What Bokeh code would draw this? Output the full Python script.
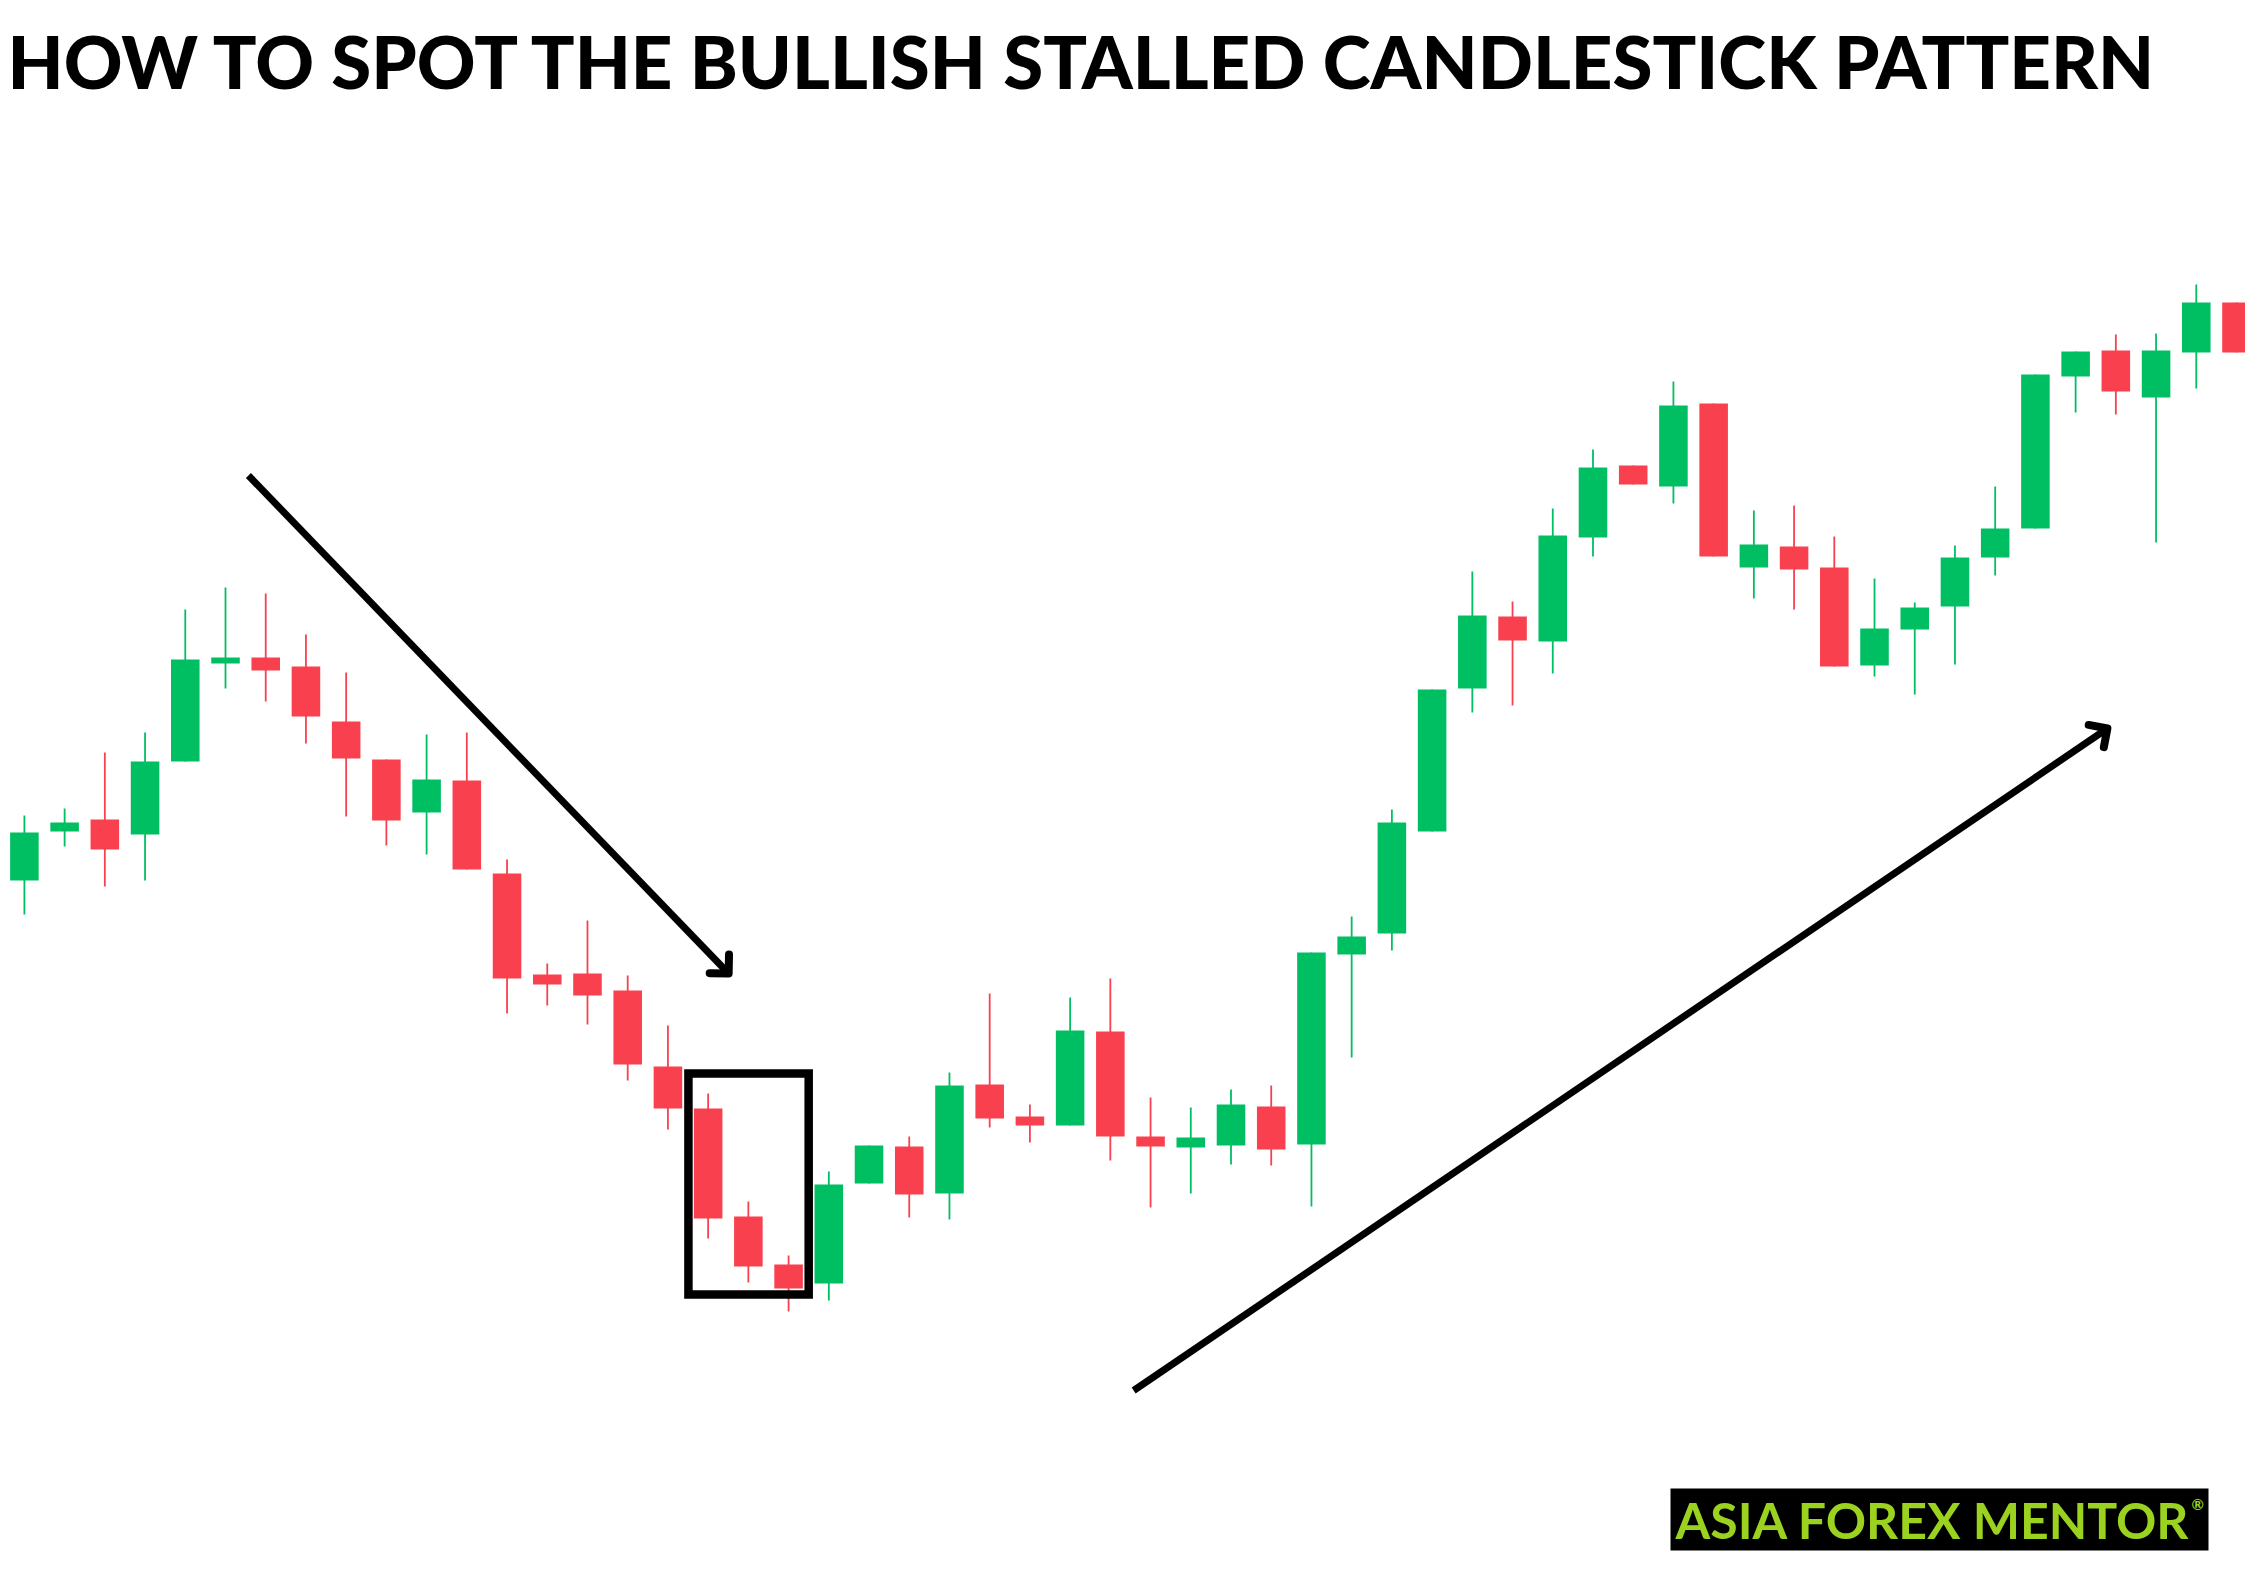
import math
from bokeh.plotting import figure
from bokeh.models import Range1d, Label, BoxAnnotation, ColumnDataSource
from bokeh.embed import file_html
from bokeh.resources import INLINE

# ---------------- data ----------------
bars = list(range(1, 57))
open_ = [1.0707, 1.0756, 1.0768, 1.0753, 1.0826, 1.0924, 1.0930, 1.0921, 1.0866, 1.0828,
         1.0775, 1.0807, 1.0714, 1.0613, 1.0614, 1.0597, 1.0521, 1.0479, 1.0371, 1.0323,
         1.0304, 1.0404, 1.0441, 1.0394, 1.0503, 1.0471, 1.0462, 1.0556, 1.0451, 1.0440,
         1.0442, 1.0481, 1.0443, 1.0633, 1.0654, 1.0756, 1.0899, 1.0971, 1.0946, 1.1050,
         1.1122, 1.1101, 1.1184, 1.1020, 1.1041, 1.1020, 1.0922, 1.0958, 1.0981, 1.1030,
         1.1059, 1.1211, 1.1237, 1.1190, 1.1235, 1.1285]
high = [1.0772, 1.0779, 1.0835, 1.0855, 1.0978, 1.1000, 1.0994, 1.0953, 1.0915, 1.0828,
        1.0853, 1.0855, 1.0728, 1.0624, 1.0667, 1.0612, 1.0562, 1.0494, 1.0386, 1.0332,
        1.0416, 1.0442, 1.0451, 1.0515, 1.0594, 1.0483, 1.0590, 1.0609, 1.0490, 1.0480,
        1.0498, 1.0502, 1.0635, 1.0671, 1.0778, 1.0898, 1.1016, 1.0986, 1.1079, 1.1138,
        1.1122, 1.1206, 1.1184, 1.1077, 1.1082, 1.1051, 1.1009, 1.0985, 1.1042, 1.1101,
        1.1213, 1.1236, 1.1253, 1.1254, 1.1303, 1.1285]
low = [1.0673, 1.0741, 1.0701, 1.0707, 1.0826, 1.0899, 1.0886, 1.0844, 1.0771, 1.0742,
       1.0733, 1.0718, 1.0574, 1.0582, 1.0563, 1.0507, 1.0458, 1.0349, 1.0305, 1.0276,
       1.0287, 1.0404, 1.0370, 1.0368, 1.0460, 1.0445, 1.0462, 1.0427, 1.0380, 1.0394,
       1.0423, 1.0422, 1.0381, 1.0530, 1.0637, 1.0756, 1.0875, 1.0882, 1.0914, 1.1031,
       1.1103, 1.1084, 1.1031, 1.0989, 1.0978, 1.0921, 1.0911, 1.0893, 1.0923, 1.1012,
       1.1059, 1.1175, 1.1173, 1.1045, 1.1199, 1.1235]
close = [1.0755, 1.0765, 1.0738, 1.0826, 1.0928, 1.0930, 1.0917, 1.0871, 1.0829, 1.0767,
         1.0808, 1.0718, 1.0609, 1.0603, 1.0592, 1.0523, 1.0479, 1.0369, 1.0321, 1.0299,
         1.0403, 1.0442, 1.0393, 1.0502, 1.0469, 1.0462, 1.0557, 1.0451, 1.0441, 1.0450,
         1.0483, 1.0438, 1.0635, 1.0651, 1.0765, 1.0898, 1.0972, 1.0947, 1.1052, 1.1120,
         1.1103, 1.1182, 1.1031, 1.1043, 1.1018, 1.0921, 1.0959, 1.0980, 1.1030, 1.1059,
         1.1213, 1.1236, 1.1196, 1.1237, 1.1285, 1.1235]

title_text = "HOW TO SPOT THE BULLISH STALLED CANDLESTICK PATTERN"
logo_text = "ASIA FOREX MENTOR"

# pattern box (bars 18-20) and trend arrows, in (bar, price)
box_left, box_right = 17.51, 20.50
box_top, box_bottom = 1.0514, 1.0293
down_arrow = [(6.57, 1.1112), (18.51, 1.0614)]
up_arrow = [(28.58, 1.0197), (52.79, 1.0859)]

# ---------------- layout ----------------
W, H = 2245, 1587
BAR_PX = 40.22
FIRST_BAR_PX = 23.9
PRICE_PER_PX = 0.0001
y_lo = 1.0000
x_lo = 1 - FIRST_BAR_PX / BAR_PX
x_hi = x_lo + W / BAR_PX
y_hi = y_lo + H * PRICE_PER_PX

GREEN = "#00bf63"
RED = "#f9404e"

p = figure(width=W, height=H, x_range=Range1d(x_lo, x_hi), y_range=Range1d(y_lo, y_hi),
           output_backend="svg", toolbar_location=None, min_border=0,
           x_axis_location=None, y_axis_location=None,
           background_fill_color="white", border_fill_color="white",
           outline_line_color=None)
p.grid.visible = False

colors = [GREEN if c >= o else RED for o, c in zip(open_, close)]
src = ColumnDataSource(dict(
    x=bars, h=high, l=low,
    top=[max(o, c) for o, c in zip(open_, close)],
    bottom=[min(o, c) for o, c in zip(open_, close)],
    color=colors))

p.segment(x0="x", y0="h", x1="x", y1="l", line_color="color", line_width=1.8, source=src)
p.vbar(x="x", width=0.71, top="top", bottom="bottom", fill_color="color",
       line_color=None, source=src)

# pattern box
p.quad(left=[box_left], right=[box_right], top=[box_top], bottom=[box_bottom],
       fill_color=None, line_color="black", line_width=8.5, line_join="miter")


def to_px(x, y):
    return ((x - x_lo) * BAR_PX, (y - y_lo) / PRICE_PER_PX)


def to_data(px, py):
    return (x_lo + px / BAR_PX, y_lo + py * PRICE_PER_PX)


def draw_arrow(pts, arm=19, ang=45):
    (x0, y0), (x1, y1) = pts
    p.line([x0, x1], [y0, y1], line_color="black", line_width=7, line_cap="butt")
    a0 = to_px(x0, y0)
    a1 = to_px(x1, y1)
    dx, dy = a0[0] - a1[0], a0[1] - a1[1]
    n = math.hypot(dx, dy)
    dx, dy = dx / n, dy / n
    ends = []
    for s in (1, -1):
        t = math.radians(ang * s)
        rx = dx * math.cos(t) - dy * math.sin(t)
        ry = dx * math.sin(t) + dy * math.cos(t)
        ends.append(to_data(a1[0] + rx * arm, a1[1] + ry * arm))
    hx = [ends[0][0], x1, ends[1][0]]
    hy = [ends[0][1], y1, ends[1][1]]
    p.line(hx, hy, line_color="black", line_width=8, line_cap="round", line_join="round")


draw_arrow(down_arrow)
draw_arrow(up_arrow)

# title
p.add_layout(Label(x=7, y=1527, x_units="screen", y_units="screen", text=title_text,
                   text_font="Lato Black, Lato", text_font_style="bold",
                   text_font_size="72.6px",
                   text_color="black", text_baseline="alphabetic", text_align="left"))

# logo
p.add_layout(BoxAnnotation(left=1670, right=2208, bottom=37, top=99,
                           left_units="screen", right_units="screen",
                           top_units="screen", bottom_units="screen",
                           fill_color="black", fill_alpha=1.0, line_color=None))
p.add_layout(Label(x=1675, y=68, x_units="screen", y_units="screen", text=logo_text,
                   text_font="Lato", text_font_style="bold", text_font_size="50px",
                   text_color="#9bd11f", text_baseline="alphabetic", text_align="left"))
p.add_layout(Label(x=2191, y=84, x_units="screen", y_units="screen", text="\u00ae",
                   text_font="Lato", text_font_style="bold", text_font_size="15px",
                   text_color="#9bd11f", text_baseline="alphabetic", text_align="left"))

open("out.html", "w").write(file_html(p, INLINE))
